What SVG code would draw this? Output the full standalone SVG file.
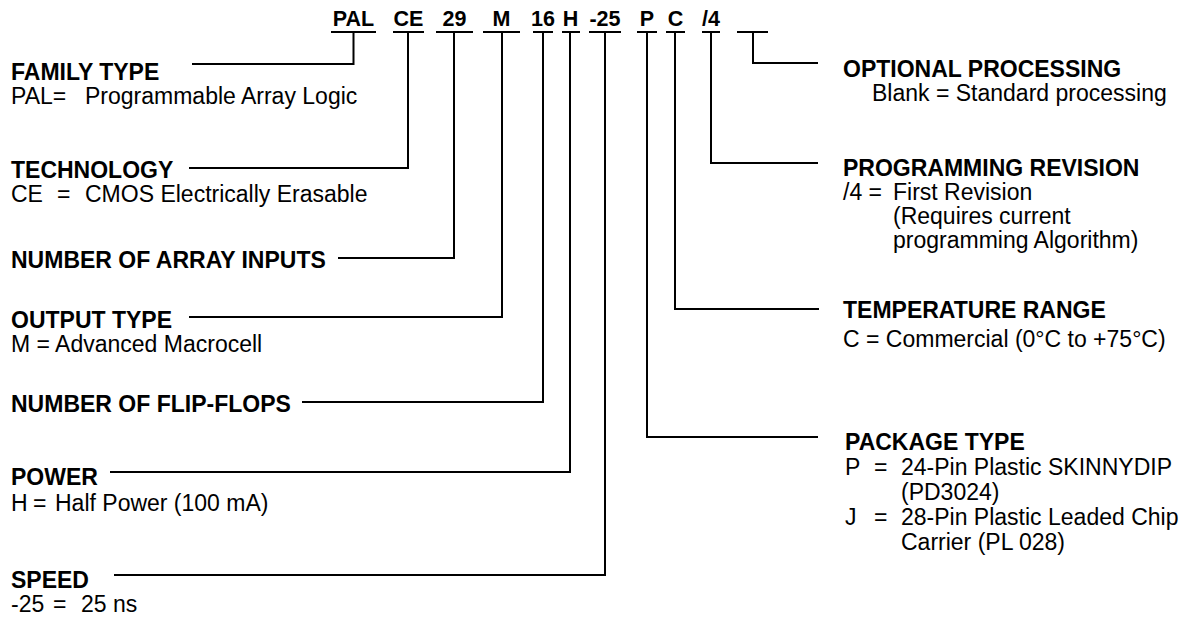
<svg xmlns="http://www.w3.org/2000/svg" width="1185" height="622" viewBox="0 0 1185 622">
<style>
text{font-family:"Liberation Sans",Arial,Helvetica,sans-serif;fill:#000;font-size:23px}
.b{font-weight:bold}
.h{font-weight:bold;font-size:21.5px;text-anchor:middle}
.c{fill:none;stroke:#000;stroke-width:2}
</style>
<rect width="1185" height="622" fill="#fff"/>
<g id="header">
<text class="h" x="353.5" y="26">PAL</text>
<text class="h" x="408.5" y="26">CE</text>
<text class="h" x="454.5" y="26">29</text>
<text class="h" x="501.5" y="26">M</text>
<text class="h" x="543" y="26">16</text>
<text class="h" x="570.5" y="26">H</text>
<text class="h" x="605" y="26">-25</text>
<text class="h" x="647" y="26">P</text>
<text class="h" x="675.5" y="26">C</text>
<text class="h" x="711" y="26">/4</text>
</g>
<g id="connectors" class="c">
<path d="M331,32H376M393,32H424M436,32H473M483,32H520M533,32H553M562,32H580M589,32H621M637,32H657M666,32H685M702,32H720M737,32H768"/>
<path d="M353.5,32V64H192"/>
<path d="M408,32V168H189"/>
<path d="M454,32V258H338"/>
<path d="M502,32V317H189"/>
<path d="M543,32V402H302"/>
<path d="M570,32V472H110"/>
<path d="M605,32V575H114"/>
<path d="M647,32V437H818"/>
<path d="M675,32V309H819"/>
<path d="M711,32V163H818"/>
<path d="M753,32V63H818"/>
</g>
<g id="family">
<text class="b" x="11" y="80">FAMILY TYPE</text>
<text x="11" y="104">PAL=</text><text x="85" y="104">Programmable Array Logic</text>
</g>
<g id="technology">
<text class="b" x="11" y="178">TECHNOLOGY</text>
<text x="11" y="202">CE</text><text x="57" y="202">=</text><text x="85" y="202">CMOS Electrically Erasable</text>
</g>
<g id="inputs">
<text class="b" x="11" y="268">NUMBER OF ARRAY INPUTS</text>
</g>
<g id="output">
<text class="b" x="11" y="328">OUTPUT TYPE</text>
<text x="11" y="352">M = Advanced Macrocell</text>
</g>
<g id="flipflops">
<text class="b" x="11" y="412">NUMBER OF FLIP-FLOPS</text>
</g>
<g id="power">
<text class="b" x="11" y="485">POWER</text>
<text x="11" y="511">H</text><text x="33" y="511">=</text><text x="55" y="511">Half Power (100 mA)</text>
</g>
<g id="speed">
<text class="b" x="11" y="588">SPEED</text>
<text x="11" y="612">-25</text><text x="53" y="612">=</text><text x="81" y="612">25 ns</text>
</g>
<g id="optional">
<text class="b" x="843" y="77">OPTIONAL PROCESSING</text>
<text x="872" y="101">Blank = Standard processing</text>
</g>
<g id="revision">
<text class="b" x="843" y="176">PROGRAMMING REVISION</text>
<text x="843" y="200">/4 =</text><text x="893" y="200">First Revision</text>
<text x="893" y="224">(Requires current</text>
<text x="893" y="248">programming Algorithm)</text>
</g>
<g id="temperature">
<text class="b" x="843" y="318">TEMPERATURE RANGE</text>
<text x="843" y="347">C = Commercial (0°C to +75°C)</text>
</g>
<g id="package">
<text class="b" x="845" y="450">PACKAGE TYPE</text>
<text x="845" y="475">P</text><text x="874" y="475">=</text><text x="901" y="475">24-Pin Plastic SKINNYDIP</text>
<text x="901" y="500">(PD3024)</text>
<text x="845" y="525">J</text><text x="874" y="525">=</text><text x="901" y="525">28-Pin Plastic Leaded Chip</text>
<text x="901" y="550">Carrier (PL 028)</text>
</g>
</svg>
